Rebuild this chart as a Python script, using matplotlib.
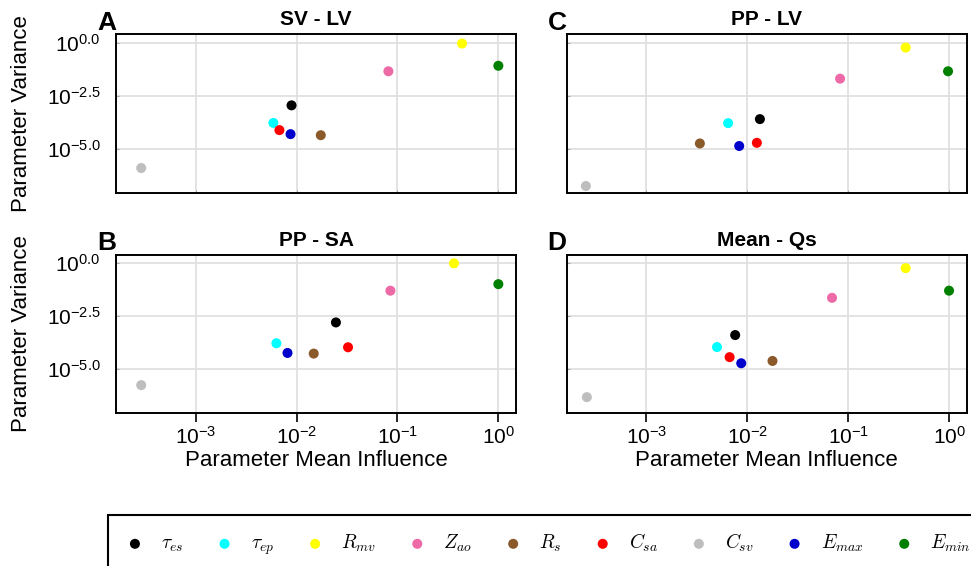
import matplotlib
matplotlib.use('Agg')
import matplotlib.pyplot as plt
import numpy as np
from matplotlib.ticker import FixedLocator, FixedFormatter, NullLocator

plt.rcParams['font.family'] = 'Liberation Sans'
plt.rcParams['mathtext.fontset'] = 'custom'
plt.rcParams['mathtext.rm'] = 'Liberation Sans'
plt.rcParams['mathtext.it'] = 'Liberation Sans:italic'
plt.rcParams['mathtext.bf'] = 'Liberation Sans:bold'

# parameters (legend order)
params = [r'$\tau_{es}$', r'$\tau_{ep}$', r'$R_{mv}$', r'$Z_{ao}$', r'$R_s$',
          r'$C_{sa}$', r'$C_{sv}$', r'$E_{max}$', r'$E_{min}$']
colors = ['black', '#00FFFF', '#FFFF00', '#EE6AA7', '#8B5A2B',
          '#FF0000', '#BEBEBE', '#0000CD', '#008000']

# log10 of mean influence (x) and variance (y)
sv_lv_x = [-2.05, -2.23, -0.36, -1.09, -1.76, -2.17, -3.54, -2.06, 0.0]
sv_lv_y = [-2.96, -3.79, -0.04, -1.35, -4.37, -4.13, -5.92, -4.32, -1.09]

pp_sa_x = [-1.61, -2.20, -0.44, -1.07, -1.83, -1.49, -3.54, -2.09, 0.0]
pp_sa_y = [-2.81, -3.80, 0.0, -1.30, -4.29, -3.99, -5.79, -4.26, -0.99]

pp_lv_x = [-1.875, -2.19, -0.43, -1.08, -2.47, -1.905, -3.60, -2.08, -0.01]
pp_lv_y = [-3.61, -3.80, -0.23, -1.70, -4.76, -4.73, -6.77, -4.88, -1.35]

mean_qs_x = [-2.12, -2.30, -0.43, -1.16, -1.75, -2.175, -3.59, -2.06, 0.0]
mean_qs_y = [-3.41, -3.98, -0.23, -1.64, -4.64, -4.46, -6.36, -4.75, -1.30]

xticks = [1e-3, 1e-2, 1e-1, 1e0]
xticklabels = [r'$10^{-3}$', r'$10^{-2}$', r'$10^{-1}$', r'$10^{0}$']
yticks = [10**-5.0, 10**-2.5, 10**0.0]
yticklabels = [r'$10^{-5.0}$', r'$10^{-2.5}$', r'$10^{0.0}$']

W, H = 971, 566
fig = plt.figure(figsize=(W / 100, H / 100), dpi=100)

def rect(l, t, r, b):
    return [l / W, 1 - b / H, (r - l) / W, (b - t) / H]

panels = [
    ('A', 'SV - LV', sv_lv_x, sv_lv_y, rect(116, 34, 516, 193), False, True),
    ('B', 'PP - SA', pp_sa_x, pp_sa_y, rect(116, 254.7, 516, 412.7), True, True),
    ('C', 'PP - LV', pp_lv_x, pp_lv_y, rect(566.7, 34, 966.7, 193), False, False),
    ('D', 'Mean - Qs', mean_qs_x, mean_qs_y, rect(566.7, 254.7, 966.7, 412.7), True, False),
]

handles = []
for letter, title, xs, ys, r, bottom, left in panels:
    ax = fig.add_axes(r)
    ax.set_xscale('log')
    ax.set_yscale('log')
    hs = []
    for i in range(len(params)):
        h = ax.scatter(10 ** xs[i], 10 ** ys[i], s=52, color=colors[i],
                       edgecolors='none', zorder=3, label=params[i])
        hs.append(h)
    if not handles:
        handles = hs
    ax.set_xlim(10 ** -3.79, 10 ** 0.175)
    ax.set_ylim(10 ** -7.1, 10 ** 0.41)
    ax.xaxis.set_major_locator(FixedLocator(xticks))
    ax.xaxis.set_minor_locator(NullLocator())
    ax.yaxis.set_major_locator(FixedLocator(yticks))
    ax.yaxis.set_minor_locator(NullLocator())
    ax.grid(True, color='#e0e0e0', linewidth=1.3, zorder=0)
    ax.set_axisbelow(True)
    for s in ax.spines.values():
        s.set_linewidth(1.4)
    if bottom:
        ax.xaxis.set_major_formatter(FixedFormatter(xticklabels))
        ax.tick_params(axis='x', direction='out', length=6.5, width=1.2,
                       labelsize=15, pad=3)
        ax.set_xlabel('Parameter Mean Influence', fontsize=16)
        ax.xaxis.set_label_coords(0.5, -0.235)
    else:
        ax.tick_params(axis='x', direction='in', length=2.5, color='#aaaaaa',
                       labelbottom=False)
    if left:
        ax.yaxis.set_major_formatter(FixedFormatter(yticklabels))
        ax.tick_params(axis='y', direction='in', length=2.5, color='#aaaaaa',
                       labelsize=15, pad=11)
        ax.set_ylabel('Parameter Variance', fontsize=16)
        ax.yaxis.set_label_coords(-0.21, 0.5)
    else:
        ax.tick_params(axis='y', direction='in', length=2.5, color='#aaaaaa',
                       labelleft=False)
    ax.set_title(title, fontsize=15, fontweight='bold', pad=6.5)
    fig.text(r[0] - 19 / W, r[1] + r[3] + 4.5 / H, letter, fontsize=19,
             fontweight='bold', ha='left', va='baseline')

leg = fig.legend(handles=handles, labels=params, loc='upper left',
                 bbox_to_anchor=(108.3 / W, 1 - 515 / H), borderaxespad=0,
                 ncol=9, fontsize=14, handlelength=1.0, handletextpad=0.84,
                 columnspacing=1.61, borderpad=0.87, scatterpoints=1,
                 fancybox=False, framealpha=1, edgecolor='black')
leg.get_frame().set_linewidth(1.5)
for t in leg.get_texts():
    t.set_math_fontfamily('cm')

fig.savefig('out.png', dpi=100)
